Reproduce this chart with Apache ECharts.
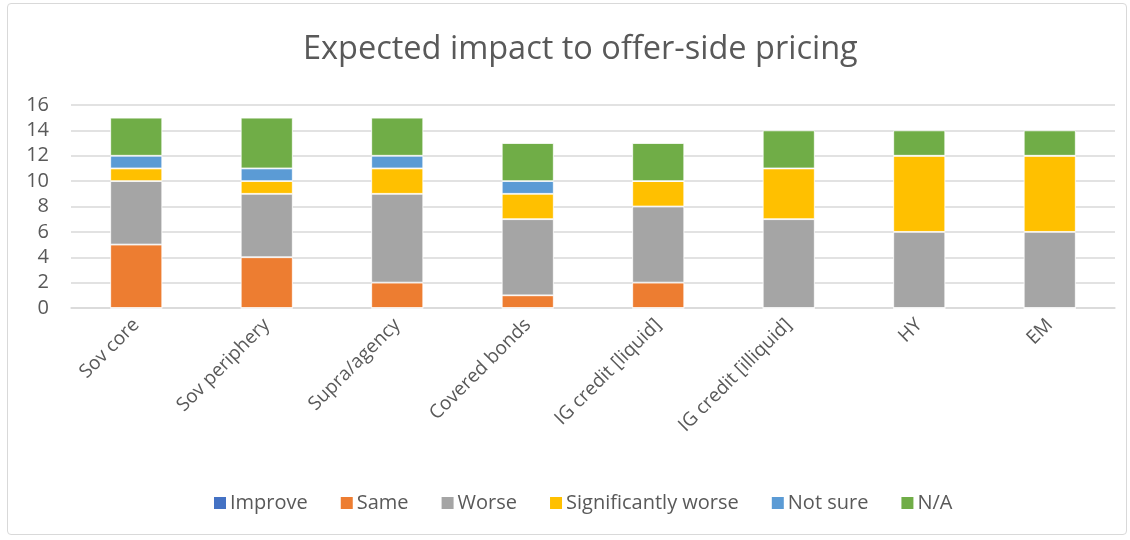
<!DOCTYPE html>
<html>
<head>
<meta charset="utf-8">
<script src="https://cdn.jsdelivr.net/npm/echarts@6/dist/echarts.min.js"></script>
<style>
  html, body { margin: 0; padding: 0; background: #fff; }
  #frame { position: absolute; left: 7px; top: 3px; width: 1120px; height: 532px;
           border: 1px solid #d9d9d9; border-radius: 4px; box-sizing: border-box; }
  #main { position: absolute; left: 0; top: 0; width: 1130px; height: 540px; }
</style>
</head>
<body>
<div id="frame"></div>
<div id="main"></div>
<script>
/* Expected impact to offer-side pricing - stacked bars */

const categories = ['Sov core', 'Sov periphery', 'Supra/agency', 'Covered bonds',
    'IG credit [liquid]', 'IG credit [illiquid]', 'HY', 'EM'];

const improve = [0, 0, 0, 0, 0, 0, 0, 0];
const same = [5, 4, 2, 1, 2, 0, 0, 0];
const worse = [5, 5, 7, 6, 6, 7, 6, 6];
const sigWorse = [1, 1, 2, 2, 2, 4, 6, 6];
const notSure = [1, 1, 1, 1, 0, 0, 0, 0];
const na = [3, 4, 3, 3, 3, 3, 2, 2];

const seriesDefs = [
    ['Improve', improve, '#4472c4'],
    ['Same', same, '#ed7d31'],
    ['Worse', worse, '#a5a5a5'],
    ['Significantly worse', sigWorse, '#ffc000'],
    ['Not sure', notSure, '#5b9bd5'],
    ['N/A', na, '#70ad47'],
];

const textColor = '#595959';
const chart = echarts.init(document.getElementById('main'));
chart.setOption({
    animation: false,
    title: {
        text: 'Expected impact to offer-side pricing',
        left: 298, top: 28,
        textStyle: { fontFamily: 'Open Sans', fontSize: 32.5, fontWeight: 'normal', color: textColor },
    },
    legend: {
        bottom: 22, left: 207,
        itemWidth: 14, itemHeight: 14, itemGap: 31,
        icon: 'rect',
        textStyle: { fontFamily: 'Open Sans', fontSize: 20, color: textColor, padding: [0, 0, 0, -2] },
        data: seriesDefs.map(s => s[0]),
    },
    grid: { left: 71, right: 15, top: 105, bottom: 232, containLabel: false },
    xAxis: {
        type: 'category',
        data: categories,
        axisLine: { lineStyle: { color: '#d9d9d9', width: 1.5 } },
        axisTick: { show: false },
        axisLabel: {
            rotate: 45, margin: 14,
            fontFamily: 'Open Sans', fontSize: 19, color: textColor,
        },
    },
    yAxis: {
        type: 'value',
        min: 0, max: 16, interval: 2,
        axisLine: { show: false },
        axisTick: { show: false },
        splitLine: { lineStyle: { color: '#d9d9d9', width: 1.5 } },
        axisLabel: { fontFamily: 'Open Sans', fontSize: 20, color: textColor, margin: 22 },
    },
    series: seriesDefs.map(([name, data, color]) => ({
        name,
        type: 'bar',
        stack: 'total',
        data,
        barWidth: 52,
        itemStyle: { color, borderColor: '#ffffff', borderWidth: 0.8 },
    })),
});
</script>
</body>
</html>
